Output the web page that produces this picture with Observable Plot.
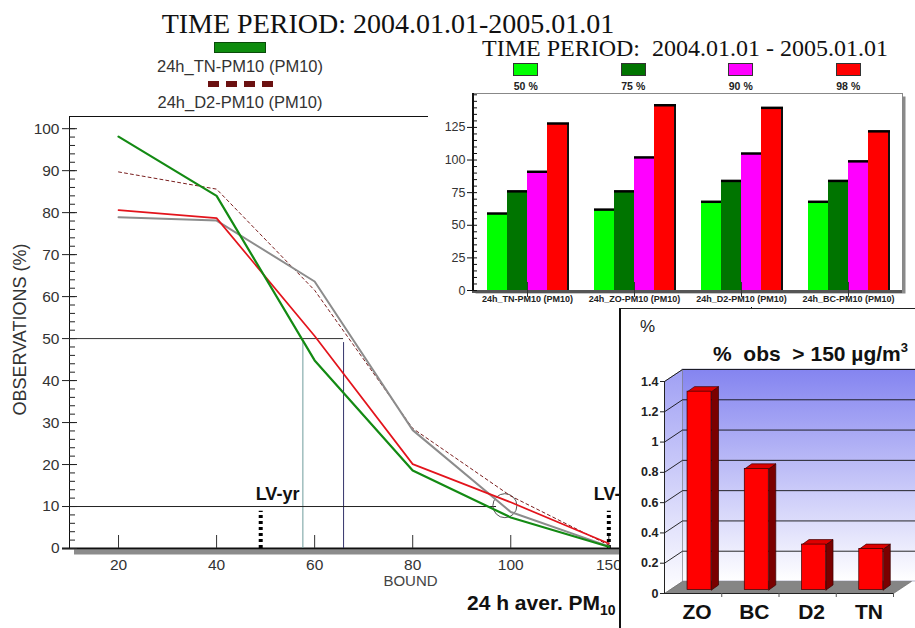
<!DOCTYPE html>
<html><head><meta charset="utf-8">
<script src="https://cdn.jsdelivr.net/npm/d3@7"></script>
<script src="https://cdn.jsdelivr.net/npm/@observablehq/plot@0.6"></script>
<style>
body{margin:0;background:#fff;}
#root{position:relative;width:915px;height:628px;overflow:hidden;background:#fff;font-family:"Liberation Sans",Arial,sans-serif;color:#222;}
.abs{position:absolute;}
.swatch{display:inline-block;width:25px;height:13px;border:1px solid #333;box-sizing:border-box;}
</style></head><body><div id="root"></div>
<script>
// ================= DATA =================
// main chart: cumulative % of observations above each bound
const bounds = [20, 40, 60, 80, 100, 150];
const tnPM10 = [98.1, 84.0, 44.8, 18.6, 7.4, 0.4];   // green
const d2PM10 = [89.7, 85.6, 61.5, 28.6, 12.5, 0.8];  // dashed dark red
const zoPM10 = [80.6, 78.7, 50.6, 20.1, 11.0, 1.2];  // red
const bcPM10 = [78.9, 78.1, 63.6, 28.2, 8.7, 0.5];   // grey
const crossing50 = [57.6, 65.9];     // bounds where the 50 % guide meets curves
const crossing10 = 97.1;             // bound where the 10 % guide ends
const circled = {bound: 98.8, pct: 10.2};
const limitValues = [{label: "LV-yr", bound: 49}, {label: "LV-d", bound: 150}];
const lvHeight = 9.8;

// top-right inset: percentiles per station
const groups = ["24h_TN-PM10 (PM10)", "24h_ZO-PM10 (PM10)", "24h_D2-PM10 (PM10)", "24h_BC-PM10 (PM10)"];
const percentiles = ["50 %", "75 %", "90 %", "98 %"];
const p50 = [59, 62, 68, 68];
const p75 = [76, 76, 84, 84];
const p90 = [91, 102, 105, 99];
const p98 = [128, 142, 140, 122];

// bottom-right inset: % obs > 150 µg/m3
const stations = ["ZO", "BC", "D2", "TN"];
const over150 = [1.31, 0.80, 0.30, 0.27];

// ================= MAIN CHART =================
const root = document.getElementById("root");
const FONT = "'Liberation Sans', Arial, sans-serif";
const posOf = b => b <= 100 ? b : 20 * (bounds.indexOf(b) + 1);   // 150 sits one step after 100
const tickPos = bounds.map(posOf);
const labelOf = p => String(bounds[tickPos.indexOf(p)]);
const rows = vals => bounds.map((b, i) => ({x: posOf(b), y: vals[i]}));
const xDom = [10, 149.1], yDom = [0, 102.9];

const main = Plot.plot({
  width: 915, height: 628,
  marginLeft: 69, marginRight: 164, marginTop: 116, marginBottom: 80,
  x: {type: "linear", domain: xDom, label: null},
  y: {domain: yDom, label: null},
  style: {fontFamily: FONT, background: "transparent", color: "#222", overflow: "visible"},
  marks: [
    Plot.frame({stroke: "#111"}),
    Plot.ruleY([0], {stroke: "#8c8c8c", strokeWidth: 5, dy: 3.5, dx: 5}),
    Plot.ruleY([0], {stroke: "#111", strokeWidth: 2, insetLeft: -7}),
    Plot.axisY({ticks: d3.range(0, 101, 10), tickSize: 7, tickPadding: 3, fontSize: 15.5, fill: "#333", stroke: "#222"}),
    Plot.axisY({ticks: d3.range(0, 101, 10), tickSize: -8, fill: "none", stroke: "#222"}),
    Plot.axisY({ticks: d3.range(0, 101, 2), tickSize: -6, fill: "none", stroke: "#222"}),
    Plot.axisX({ticks: tickPos, tickFormat: labelOf, tickSize: 0, tickPadding: 10, fontSize: 15.5, fill: "#333"}),
    Plot.axisX({ticks: tickPos, tickSize: -13, fill: "none", stroke: "#333"}),
    Plot.text(["BOUND"], {text: d => d, frameAnchor: "bottom", dy: 37, fontSize: 15, fill: "#444"}),
    Plot.text(["OBSERVATIONS (%)"], {text: d => d, frameAnchor: "left", textAnchor: "middle", dx: -49, dy: -3, rotate: -90, fontSize: 18, fill: "#333"}),
    // guides
    Plot.ruleY([50], {x1: xDom[0], x2: crossing50[1], stroke: "#333"}),
    Plot.ruleX([crossing50[0]], {y1: 0, y2: 50, stroke: "#6f9c9c", insetBottom: -4}),
    Plot.ruleX([crossing50[1]], {y1: 0, y2: 50, stroke: "#34346a", insetBottom: -4}),
    Plot.ruleY([10], {x1: xDom[0], x2: crossing10, stroke: "#222"}),
    Plot.dot([circled], {x: "bound", y: "pct", r: 12, stroke: "#555", strokeWidth: 1}),
    // limit values
    Plot.ruleX(limitValues, {x: d => posOf(d.bound), y1: 0, y2: lvHeight, stroke: "#000", strokeWidth: 4, strokeDasharray: "3,3", insetBottom: -4}),
    Plot.text([limitValues[0]], {x: d => posOf(d.bound), y: lvHeight, text: "label", dy: -13, dx: -5, textAnchor: "start", fontWeight: "bold", fontSize: 18, fill: "#111"}),
    Plot.text([limitValues[1]], {x: d => posOf(d.bound), y: lvHeight, text: "label", dy: -13, dx: -15, textAnchor: "start", fontWeight: "bold", fontSize: 18, fill: "#111"}),
    // series
    Plot.line(rows(d2PM10), {x: "x", y: "y", stroke: "#7a1f1f", strokeWidth: 1, strokeDasharray: "3,3"}),
    Plot.line(rows(bcPM10), {x: "x", y: "y", stroke: "#8c8c8c", strokeWidth: 2}),
    Plot.line(rows(zoPM10), {x: "x", y: "y", stroke: "#e3141c", strokeWidth: 1.7}),
    Plot.line(rows(tnPM10), {x: "x", y: "y", stroke: "#138a13", strokeWidth: 2.2})
  ]
});
main.style.position = "absolute"; main.style.left = "0px"; main.style.top = "0px";
root.appendChild(main);

function addDiv(html, css) {
  const d = document.createElement("div");
  d.className = "abs"; d.innerHTML = html; d.style.cssText += css;
  root.appendChild(d); return d;
}
// title + legend
addDiv("TIME PERIOD: 2004.01.01-2005.01.01",
  "left:38px;width:700px;text-align:center;top:10px;font-family:'Liberation Serif',serif;font-size:28px;line-height:28px;color:#111;white-space:nowrap;");
addDiv("", "left:214px;top:42px;width:52px;height:11px;background:#0e8c0e;border:1px solid #0a4a0a;box-sizing:border-box;");
addDiv("24h_TN-PM10 (PM10)", "left:140px;width:200px;text-align:center;top:58px;font-size:16.5px;line-height:16.5px;color:#333;");
addDiv([0,1,2,3].map(() => "<span style='display:inline-block;width:11px;height:6px;background:#6b1111;margin-right:7px'></span>").join(""),
  "left:208px;top:81px;height:6px;line-height:0;white-space:nowrap;");
addDiv("24h_D2-PM10 (PM10)", "left:140px;width:200px;text-align:center;top:94px;font-size:16.5px;line-height:16.5px;color:#333;");
addDiv("24 h aver. PM<span style='font-size:14px;position:relative;top:5px'>10</span>",
  "left:467px;top:592px;font-size:21px;line-height:21px;font-weight:bold;color:#111;white-space:nowrap;");

// ================= TOP-RIGHT INSET =================
const tr = addDiv("", "left:428px;top:35px;width:487px;height:272px;background:#fff;");
const trTitle = document.createElement("div");
trTitle.className = "abs";
trTitle.style.cssText = "left:7px;width:500px;text-align:center;top:1px;font-family:'Liberation Serif',serif;font-size:24px;line-height:24px;color:#111;white-space:pre;";
trTitle.textContent = "TIME PERIOD:  2004.01.01 - 2005.01.01";
tr.appendChild(trTitle);
const pColors = ["#00ff00", "#007400", "#ff00ff", "#ff0000"];
const trLeg = document.createElement("div");
trLeg.className = "abs";
trLeg.style.cssText = "left:44px;top:27px;width:430px;display:flex;";
trLeg.innerHTML = percentiles.map((p, i) =>
  `<div style="flex:1;text-align:center;"><span class="swatch" style="background:${pColors[i]}"></span><div style="font-size:10.5px;font-weight:bold;line-height:11px;margin-top:1px;color:#222">${p}</div></div>`).join("");
tr.appendChild(trLeg);

const pSeries = [p50, p75, p90, p98];
const bw = 80, sub = bw / 4;
const barMarks = [];
pSeries.forEach((vals, k) => {
  const data = groups.map((g, i) => ({group: g, value: vals[i]}));
  if (k === 3) barMarks.push(Plot.barY(data, {x: "group", y: "value", fill: "#111", insetLeft: 3 * sub + 2, insetRight: -2}));
  barMarks.push(Plot.barY(data, {x: "group", y: "value", fill: pColors[k], insetLeft: k * sub, insetRight: (3 - k) * sub}));
  barMarks.push(Plot.tickY(data, {x: "group", y: "value", stroke: "#000", strokeWidth: 2.5, insetLeft: k * sub, insetRight: (3 - k) * sub - 2}));
});
const trPlot = Plot.plot({
  width: 487, height: 222,
  marginLeft: 44, marginRight: 13, marginTop: 8, marginBottom: 17,
  x: {type: "band", domain: groups, paddingInner: 0.256, paddingOuter: 0.128, label: null},
  y: {domain: [0, 151], label: null},
  style: {fontFamily: FONT, background: "transparent", color: "#222", overflow: "visible"},
  marks: [
    Plot.frame({fill: "#8a8a8a", dx: 3, dy: 3}),
    Plot.frame({fill: "#fff", stroke: "#888"}),
    ...barMarks,
    Plot.ruleY([0], {stroke: "#555", strokeWidth: 3, dy: 1}),
    Plot.axisY({ticks: d3.range(0, 126, 25), tickSize: 5, tickPadding: 2, fontSize: 12.5, fill: "#333", stroke: "#111"}),
    Plot.axisY({ticks: d3.range(0, 151, 5), tickSize: -5, fill: "none", stroke: "#111"}),
    Plot.axisX({tickSize: 7, fill: "none", stroke: "#333"}),
    Plot.axisX({tickSize: -8, fill: "none", stroke: "#333"}),
    Plot.axisX({tickSize: 0, tickPadding: 5, fontSize: 9, fontWeight: "bold", fill: "#222"})
  ]
});
trPlot.style.position = "absolute"; trPlot.style.left = "0px"; trPlot.style.top = "50px";
tr.appendChild(trPlot);
tr.appendChild(Object.assign(document.createElement("div"), {className: "abs", style: "left:44px;top:58px;width:1.5px;height:197px;background:#111"}));

// ================= BOTTOM-RIGHT INSET (3D bars) =================
const br = addDiv("", "left:619px;top:308px;width:296px;height:320px;background:#fff;border-left:2px solid #111;border-top:1px solid #222;box-sizing:border-box;");
const brPct = document.createElement("div");
brPct.className = "abs"; brPct.textContent = "%";
brPct.style.cssText = "left:19px;top:9px;font-size:17px;line-height:17px;color:#222;";
br.appendChild(brPct);
const brTitle = document.createElement("div");
brTitle.className = "abs";
brTitle.innerHTML = "%&nbsp; obs&nbsp; &gt; 150 µg/m<sup style='font-size:13px;vertical-align:9px'>3</sup>";
brTitle.style.cssText = "right:7px;top:28px;font-size:21px;line-height:21px;font-weight:bold;color:#111;white-space:nowrap;";
br.appendChild(brTitle);

const W3 = 294, H3 = 319, mL3 = 43, mR3 = 22, mT3 = 72, mB3 = 35, yTop3 = 1.4;
const pxX = (W3 - mL3 - mR3) / 4, pxY = (H3 - mT3 - mB3) / yTop3;
const DX = 18 / pxX, DY = 12 / pxY;          // wall depth
const BW = 12 / pxX, BOX = 6.4 / pxX, BOY = 3.5 / pxY, BDX = 7 / pxX, BDY = 5 / pxY;  // bar geometry
const ticks3 = d3.range(0, 7.5).map(i => +(i * 0.2).toFixed(1));
const bars3 = stations.map((s, i) => ({s, v: over150[i], c: i + 0.5}));
const poly = (id, pts) => pts.map(([x, y]) => ({id, x, y}));
const sides = bars3.flatMap(d => {
  const xr = d.c + BOX + BW, yb = BOY, yt = d.v + BOY;
  return poly(d.s, [[xr, yb], [xr + BDX, yb + BDY], [xr + BDX, yt + BDY], [xr, yt], [xr, yb]]);
});
const tops = bars3.flatMap(d => {
  const xl = d.c + BOX - BW, xr = d.c + BOX + BW, yt = d.v + BOY;
  return poly(d.s, [[xl, yt], [xl + BDX, yt + BDY], [xr + BDX, yt + BDY], [xr, yt], [xl, yt]]);
});
const brPlot = Plot.plot({
  width: W3, height: H3,
  marginLeft: mL3, marginRight: mR3, marginTop: mT3, marginBottom: mB3,
  x: {type: "linear", domain: [0, 4], label: null},
  y: {domain: [0, yTop3], label: null},
  style: {fontFamily: FONT, background: "transparent", color: "#222", overflow: "visible"},
  marks: [
    Plot.rect([0], {x1: DX, x2: 4 + DX + 0.1, y1: DY, y2: yTop3 + DY, fill: "url(#bwall)", stroke: "#8888aa", strokeWidth: 0.6}),
    Plot.line(poly("lw", [[0, 0], [0, yTop3], [DX, yTop3 + DY], [DX, DY], [0, 0]]), {x: "x", y: "y", fill: "url(#lwall)", stroke: "#777", strokeWidth: 0.6}),
    Plot.line(poly("fl", [[0, 0], [4, 0], [4 + DX, DY], [DX, DY], [0, 0]]), {x: "x", y: "y", fill: "#858585", stroke: "#666", strokeWidth: 0.6}),
    Plot.link(ticks3.slice(1), {x1: DX, y1: d => d + DY, x2: 4 + DX + 0.1, y2: d => d + DY, stroke: "#111", strokeWidth: 0.9}),
    Plot.link(ticks3.slice(1), {x1: 0, y1: d => d, x2: DX, y2: d => d + DY, stroke: "#111", strokeWidth: 0.9}),
    Plot.line(sides, {x: "x", y: "y", z: "id", fill: "#7a0000", stroke: "#3a0000", strokeWidth: 0.7}),
    Plot.line(tops, {x: "x", y: "y", z: "id", fill: "#dd0000", stroke: "#3a0000", strokeWidth: 0.7}),
    Plot.rect(bars3, {x1: d => d.c + BOX - BW, x2: d => d.c + BOX + BW, y1: BOY, y2: d => d.v + BOY, fill: "#ff0000", stroke: "#3a0000", strokeWidth: 0.7}),
    Plot.ruleX([0], {y1: 0, y2: yTop3, stroke: "#222"}),
    Plot.ruleY([0], {stroke: "#222"}),
    Plot.axisY({ticks: ticks3, tickFormat: d3.format(".1~f"), tickSize: 4, tickPadding: 2, fontSize: 12.5, fontWeight: "bold", fill: "#222", stroke: "#222"}),
    Plot.axisX({ticks: [1, 2, 3, 4], tickSize: 4, fill: "none", stroke: "#555"}),
    Plot.axisX({ticks: bars3.map(d => d.c), tickFormat: d => stations[Math.floor(d)], tickSize: 0, tickPadding: 11, dx: 4, fontSize: 21, fontWeight: "bold", fill: "#111"})
  ]
});
const defs = d3.select(brPlot).insert("defs", ":first-child");
const g1 = defs.append("linearGradient").attr("id", "bwall").attr("x1", 0).attr("y1", 0).attr("x2", 0).attr("y2", 1);
g1.append("stop").attr("offset", "0%").attr("stop-color", "#8484f0");
g1.append("stop").attr("offset", "100%").attr("stop-color", "#ffffff");
const g2 = defs.append("linearGradient").attr("id", "lwall").attr("x1", 0).attr("y1", 0).attr("x2", 0).attr("y2", 1);
g2.append("stop").attr("offset", "0%").attr("stop-color", "#a0a0f4");
g2.append("stop").attr("offset", "100%").attr("stop-color", "#ffffff");
brPlot.style.position = "absolute"; brPlot.style.left = "0px"; brPlot.style.top = "0px";
br.appendChild(brPlot);
</script></body></html>
